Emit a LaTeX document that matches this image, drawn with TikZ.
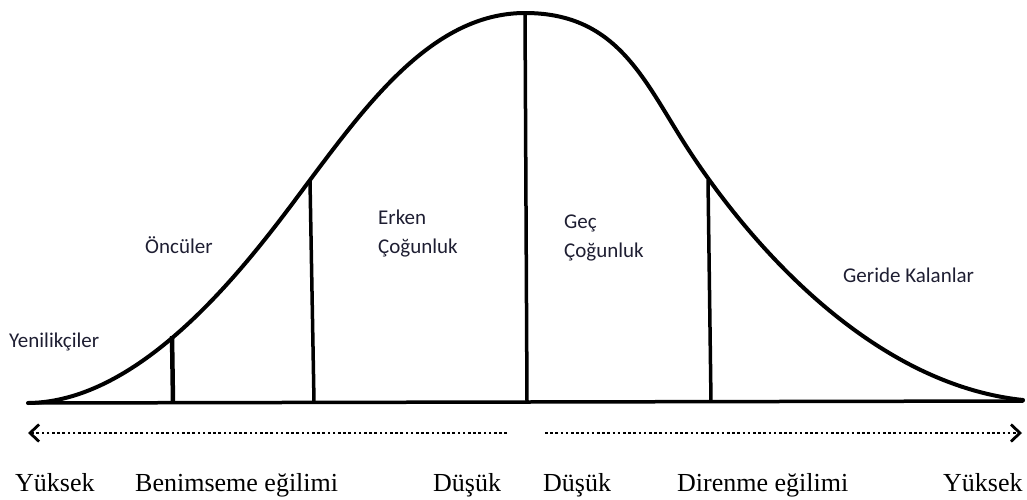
\documentclass[tikz,border=0pt]{standalone}
\usepackage{fontspec}
\setmainfont{Liberation Serif}
\newfontfamily\labfont{Carlito}
\usetikzlibrary{arrows.meta}
\definecolor{labcol}{RGB}{30,30,50}
\tikzset{
  curveline/.style={line width=4pt, line join=round, line cap=round},
  baseline/.style={line width=3.5pt, line cap=round},
  divider/.style={line width=3.5pt},
  dotline/.style={line width=2.6pt, dash pattern=on 2.6pt off 2.6pt},
  barb/.style={-{Straight Barb[length=9pt,width=17pt,line width=2.8pt]}},
  grouplabel/.style={anchor=base west, inner sep=0pt, text=labcol, font=\labfont\fontsize{21}{25}\selectfont, align=left},
  axislabel/.style={anchor=base west, inner sep=0pt, font=\fontsize{26}{30}\selectfont}
}
\begin{document}
\begin{tikzpicture}[x=1pt,y=-1pt]
\useasboundingbox (0,0) rectangle (1027,499);
% key points of the bell curve
\coordinate (tailL) at (28,403);
\coordinate (inflL) at (310,180);
\coordinate (peak) at (525,13);
\coordinate (inflR) at (690,152);
\coordinate (tailR) at (1023,400);
\draw[curveline] (tailL) .. controls (150,402) and (260,247) .. (inflL)
  .. controls (370,99.7) and (435,13) .. (peak)
  .. controls (620,13) and (645,83.6) .. (inflR)
  .. controls (760,258.4) and (880,385) .. (tailR);
% baseline
\coordinate (bl) at (28,403);
\coordinate (br) at (1023,401);
\draw[baseline] (bl) -- (br);
% dividers
\coordinate (d1t) at (172,336); \coordinate (d1b) at (173,402);
\coordinate (d2t) at (310,181); \coordinate (d2b) at (314,402);
\coordinate (d3t) at (525,13);  \coordinate (d3b) at (527,402);
\coordinate (d4t) at (708,180); \coordinate (d4b) at (711,402);
\draw[divider, line width=4.5pt] (d1t) -- (d1b);
\draw[divider] (d2t) -- (d2b);
\draw[divider] (d3t) -- (d3b);
\draw[divider] (d4t) -- (d4b);
% arrows
\coordinate (la) at (507,433); \coordinate (lb) at (28,433);
\coordinate (ra) at (545,433); \coordinate (rb) at (1022,433);
\draw[dotline, barb] (la) -- (lb);
\draw[dotline, barb] (ra) -- (rb);
% group labels
\node[grouplabel] (yen) at (9,347) {Yenilikçiler};
\node[grouplabel] (onc) at (145,253) {Öncüler};
\node[grouplabel] (erk1) at (378,224) {Erken};
\node[grouplabel] (erk2) at (378,253) {Çoğunluk};
\node[grouplabel] (gec1) at (564,228) {Geç};
\node[grouplabel] (gec2) at (564,257) {Çoğunluk};
\node[grouplabel] (ger) at (843,282) {Geride Kalanlar};
% axis labels
\node[axislabel] (y1) at (15,491) {Yüksek};
\node[axislabel] (ben) at (135,491) {Benimseme eğilimi};
\node[axislabel] (d1) at (433,491) {Düşük};
\node[axislabel] (d2) at (543,491) {Düşük};
\node[axislabel] (dir) at (677,491) {Direnme eğilimi};
\node[axislabel] (y2) at (943,491) {Yüksek};
\end{tikzpicture}
\end{document}
